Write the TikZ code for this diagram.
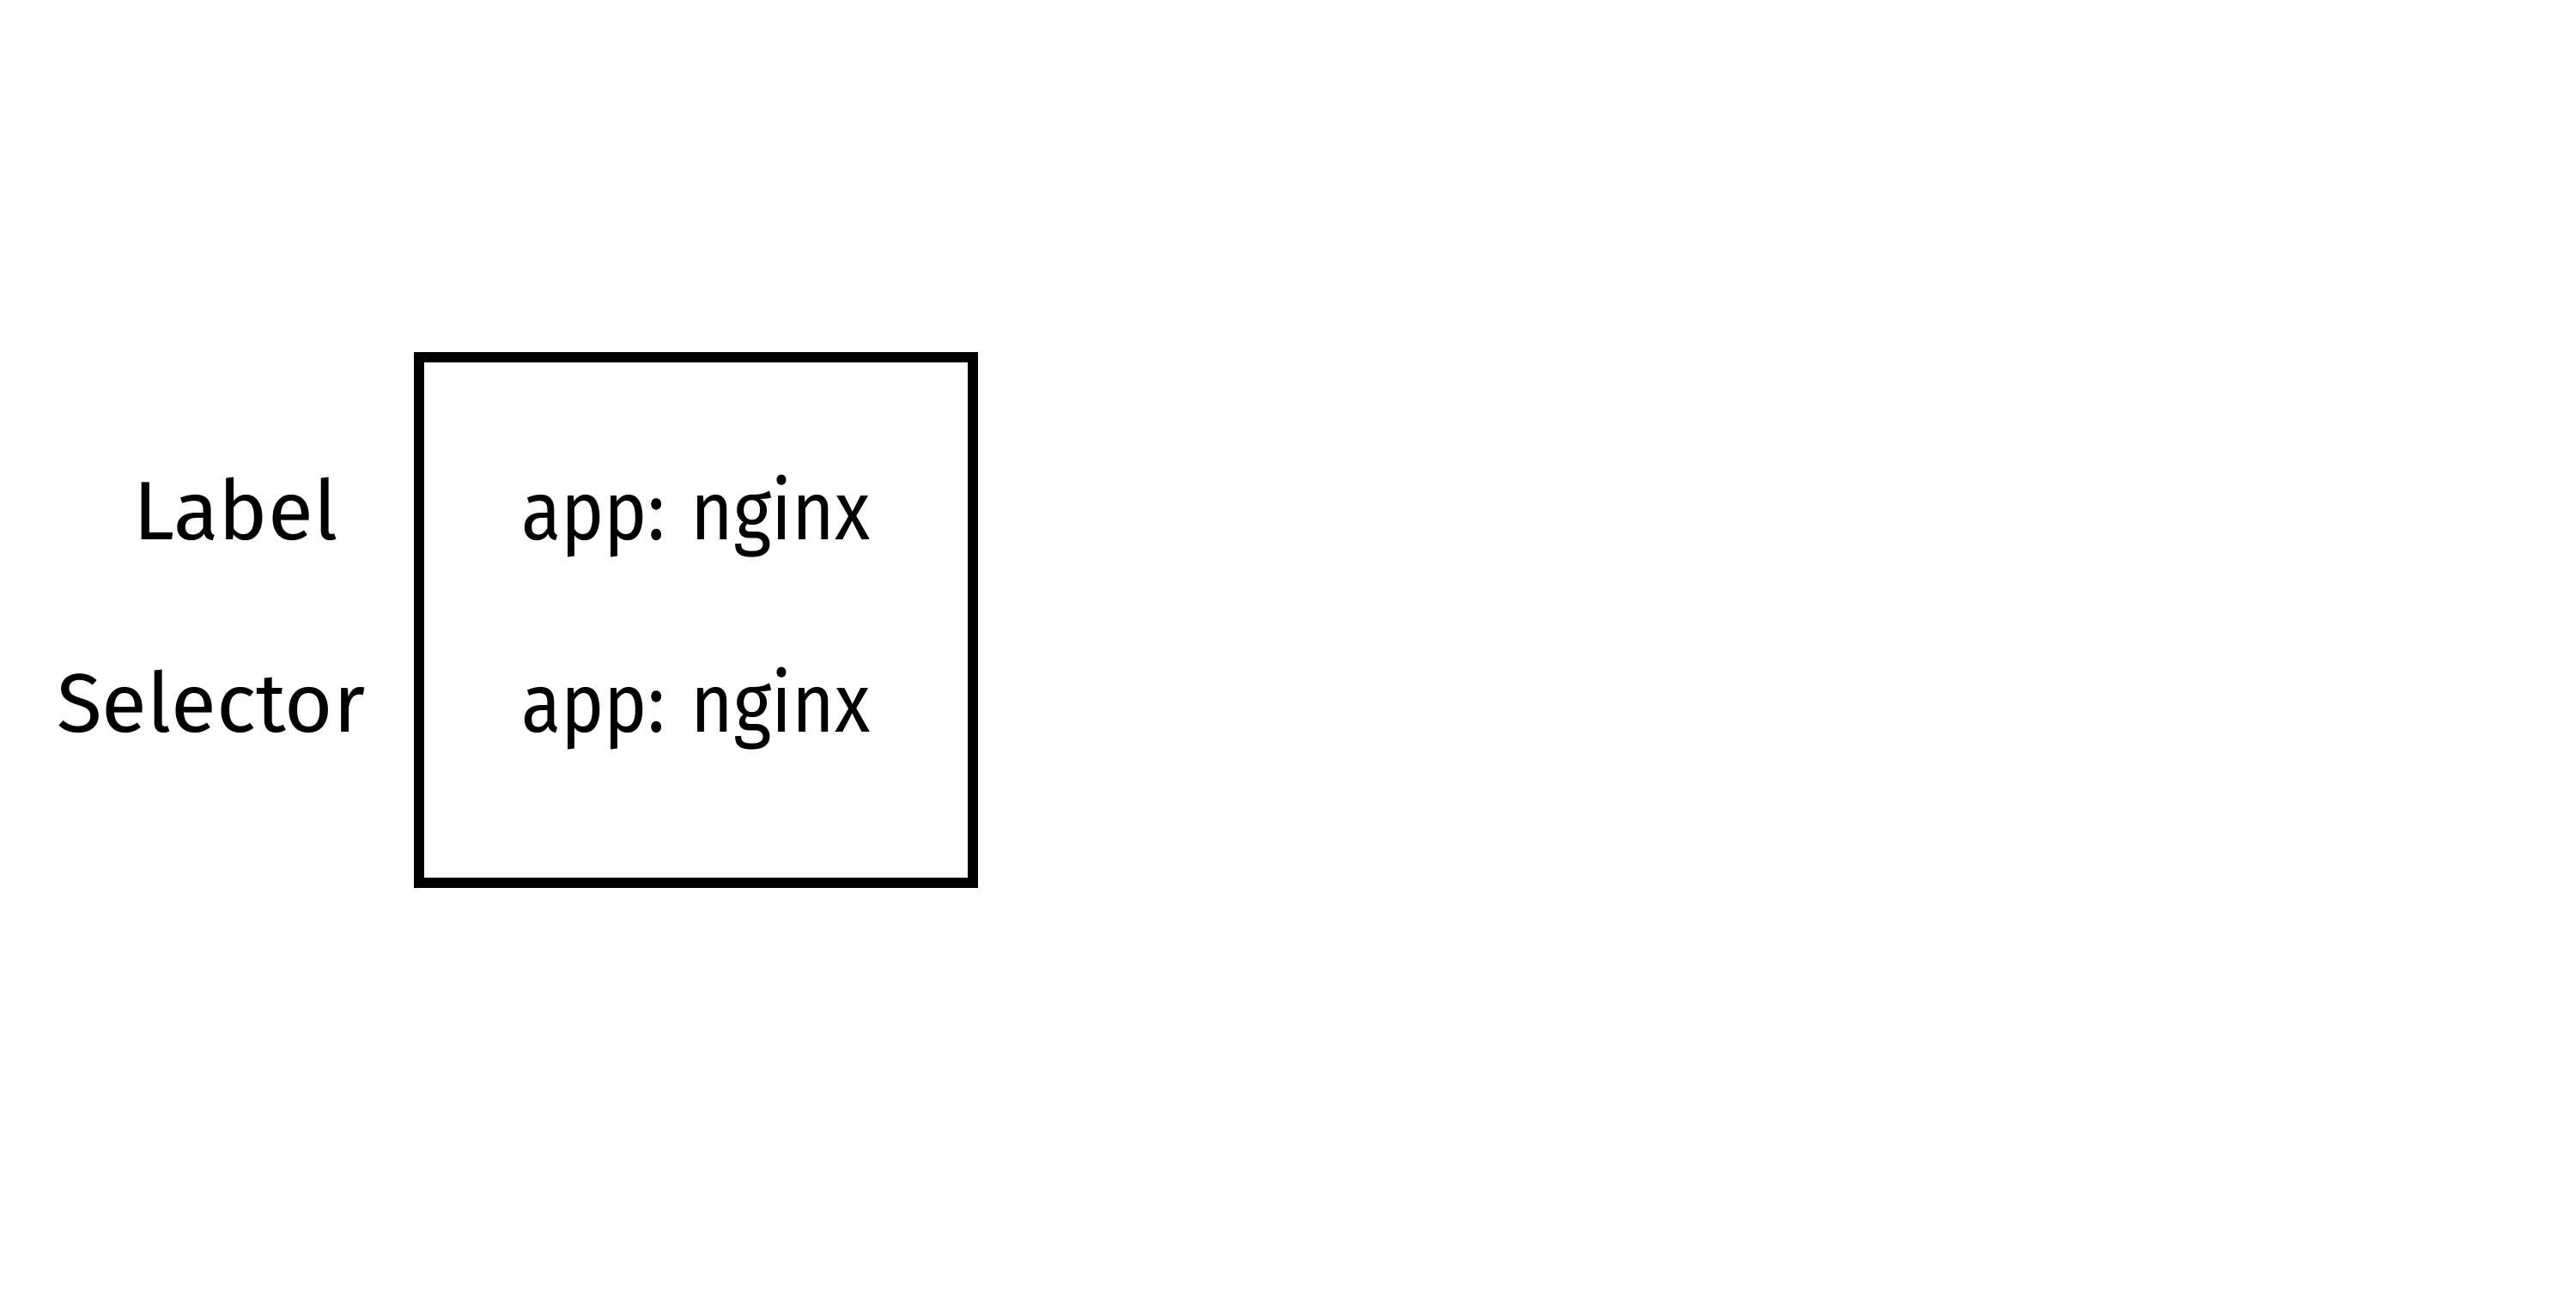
\documentclass[tikz,border=0pt]{standalone}
\usepackage{fontspec}
\setmainfont{Fira Sans}
\newfontfamily\valfont{Fira Sans}[FakeStretch=0.88]
\usetikzlibrary{positioning}

\begin{document}
\begin{tikzpicture}[
    podbox/.style={draw, line width=0.12cm, minimum width=6.45cm, minimum height=6.12cm},
    txt/.style={font=\fontsize{27.5}{33}\selectfont, inner sep=0pt},
    val/.style={txt, font=\valfont\fontsize{27.5}{33}\selectfont}
  ]
    \useasboundingbox (0,0) rectangle (30,15);

    \node[podbox] (pod) at (8.105,7.78) {};

    \node[val, anchor=base] (val1) at (8.105,8.72) {app: nginx};
    \node[val, below=2.24cm of val1.base, anchor=base] (val2) {app: nginx};

    \node[txt, anchor=base east] (label) at (3.94,8.72) {Label};
    \node[txt, anchor=base east] (selector) at (4.26,6.48) {Selector};
\end{tikzpicture}
\end{document}
